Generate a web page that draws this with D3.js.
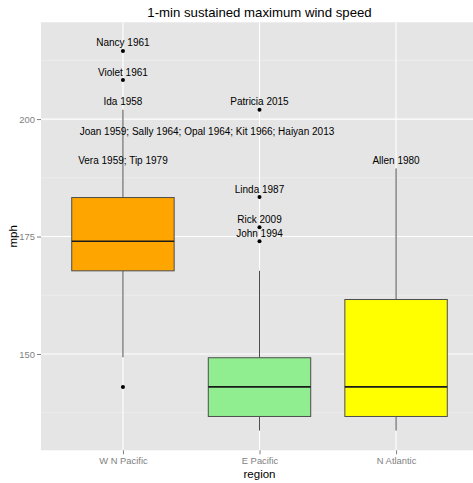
<!DOCTYPE html>
<html>
<head>
    <meta charset="utf-8">
    <script src="https://cdn.jsdelivr.net/npm/d3@7"></script>
    <title>1-min sustained maximum wind speed</title>
    <style>
        body { margin: 0; background: white; }
        svg text { font-family: 'Liberation Sans', Arial, sans-serif; }
    </style>
</head>
<body>
    <div id="chart"></div>
    <script>
        // boxplot stats per region (mph)
        var regions = ["W N Pacific", "E Pacific", "N Atlantic"];
        var boxFill = ["#FFA500", "#90EE90", "#FFFF00"];
        var whiskerLow = [149.3, 133.7, 133.7];
        var q1 = [167.7, 136.7, 136.7];
        var median = [174, 143, 143];
        var q3 = [183.3, 149.2, 161.6];
        var whiskerHigh = [202, 167.7, 189.5];

        // outlier points
        var outlierRegion = ["W N Pacific", "W N Pacific", "W N Pacific", "E Pacific", "E Pacific", "E Pacific", "E Pacific"];
        var outlierValue = [214.5, 208.3, 143, 202, 183.4, 177, 174];

        // storm labels
        var labelRegion = ["W N Pacific", "W N Pacific", "W N Pacific", "W N Pacific", "W N Pacific",
            "E Pacific", "E Pacific", "E Pacific", "E Pacific", "N Atlantic"];
        var labelValue = [214.5, 208.3, 202, 195.6, 189.5, 202, 183.4, 177, 174, 189.5];
        var labelText = ["Nancy 1961", "Violet 1961", "Ida 1958",
            "Joan 1959; Sally 1964; Opal 1964; Kit 1966; Haiyan 2013", "Vera 1959; Tip 1979",
            "Patricia 2015", "Linda 1987", "Rick 2009", "John 1994", "Allen 1980"];
        var labelHjust = [0.5, 0.5, 0.5, 0.17, 0.5, 0.5, 0.5, 0.5, 0.5, 0.5];

        var yMajor = [150, 175, 200];
        var yMinor = [137.5, 162.5, 187.5, 212.5];

        var W = 473, H = 483;
        var panel = { left: 41, right: 478, top: 22.3, bottom: 450.3 };

        var svg = d3.select("#chart").append("svg")
            .attr("width", W)
            .attr("height", H);

        var x = d3.scalePoint().domain(regions).range([panel.left, panel.right]).padding(0.6);
        var y = d3.scaleLinear().domain([129.5, 220.6]).range([panel.bottom, panel.top]);
        var bw = x.step() * 0.75;

        // panel background
        svg.append("rect")
            .attr("x", panel.left).attr("y", panel.top)
            .attr("width", panel.right - panel.left)
            .attr("height", panel.bottom - panel.top)
            .attr("fill", "#E5E5E5");

        // grid
        svg.selectAll(".minor").data(yMinor).enter().append("line")
            .attr("x1", panel.left).attr("x2", panel.right)
            .attr("y1", function (d) { return y(d); }).attr("y2", function (d) { return y(d); })
            .attr("stroke", "#F2F2F2").attr("stroke-width", 0.6);
        svg.selectAll(".major").data(yMajor).enter().append("line")
            .attr("x1", panel.left).attr("x2", panel.right)
            .attr("y1", function (d) { return y(d); }).attr("y2", function (d) { return y(d); })
            .attr("stroke", "white").attr("stroke-width", 1.1);
        svg.selectAll(".vgrid").data(regions).enter().append("line")
            .attr("x1", function (d) { return x(d); }).attr("x2", function (d) { return x(d); })
            .attr("y1", panel.top).attr("y2", panel.bottom)
            .attr("stroke", "white").attr("stroke-width", 1.1);

        // boxes
        var box = svg.selectAll(".box").data(regions).enter().append("g");
        box.append("line")
            .attr("x1", function (d) { return x(d); }).attr("x2", function (d) { return x(d); })
            .attr("y1", function (d, i) { return y(whiskerHigh[i]); })
            .attr("y2", function (d, i) { return y(q3[i]); })
            .attr("stroke", "#4d4d4d").attr("stroke-width", 1);
        box.append("line")
            .attr("x1", function (d) { return x(d); }).attr("x2", function (d) { return x(d); })
            .attr("y1", function (d, i) { return y(q1[i]); })
            .attr("y2", function (d, i) { return y(whiskerLow[i]); })
            .attr("stroke", "#4d4d4d").attr("stroke-width", 1);
        box.append("rect")
            .attr("x", function (d) { return x(d) - bw / 2; })
            .attr("width", bw)
            .attr("y", function (d, i) { return y(q3[i]); })
            .attr("height", function (d, i) { return y(q1[i]) - y(q3[i]); })
            .attr("fill", function (d, i) { return boxFill[i]; })
            .attr("stroke", "#4d4d4d").attr("stroke-width", 1);
        box.append("line")
            .attr("x1", function (d) { return x(d) - bw / 2; })
            .attr("x2", function (d) { return x(d) + bw / 2; })
            .attr("y1", function (d, i) { return y(median[i]); })
            .attr("y2", function (d, i) { return y(median[i]); })
            .attr("stroke", "#1a1a1a").attr("stroke-width", 1.6);

        // outliers
        svg.selectAll(".pt").data(outlierValue).enter().append("circle")
            .attr("cx", function (d, i) { return x(outlierRegion[i]); })
            .attr("cy", function (d) { return y(d); })
            .attr("r", 2)
            .attr("fill", "black");

        // labels
        svg.selectAll(".lab").data(labelText).enter().append("text")
            .attr("y", function (d, i) { return y(labelValue[i]) - 8; })
            .attr("dy", "0.35em")
            .attr("font-size", "10px")
            .attr("fill", "black")
            .text(function (d) { return d; })
            .attr("x", function (d, i) {
                var len = this.getComputedTextLength();
                return x(labelRegion[i]) - labelHjust[i] * len;
            });

        // axes
        var yAxis = svg.append("g")
            .attr("transform", "translate(" + panel.left + ",0)")
            .call(d3.axisLeft(y).tickValues(yMajor).tickSize(4).tickPadding(2));
        var xAxis = svg.append("g")
            .attr("transform", "translate(0," + panel.bottom + ")")
            .call(d3.axisBottom(x).tickSize(4).tickPadding(3));
        [xAxis, yAxis].forEach(function (g) {
            g.select(".domain").remove();
            g.selectAll(".tick line").attr("stroke", "#7F7F7F");
            g.selectAll(".tick text").attr("fill", "#7F7F7F")
                .style("font-size", "9.4px")
                .style("font-family", "'Liberation Sans', Arial, sans-serif");
        });

        // titles
        svg.append("text")
            .attr("x", (panel.left + panel.right) / 2)
            .attr("y", 17.3)
            .attr("text-anchor", "middle")
            .attr("font-size", "13.2px")
            .text("1-min sustained maximum wind speed");
        svg.append("text")
            .attr("x", (panel.left + panel.right) / 2)
            .attr("y", 478)
            .attr("text-anchor", "middle")
            .attr("font-size", "11.5px")
            .text("region");
        svg.append("text")
            .attr("transform", "translate(17," + ((panel.top + panel.bottom) / 2) + ") rotate(-90)")
            .attr("text-anchor", "middle")
            .attr("font-size", "11.5px")
            .text("mph");
    </script>
</body>
</html>
